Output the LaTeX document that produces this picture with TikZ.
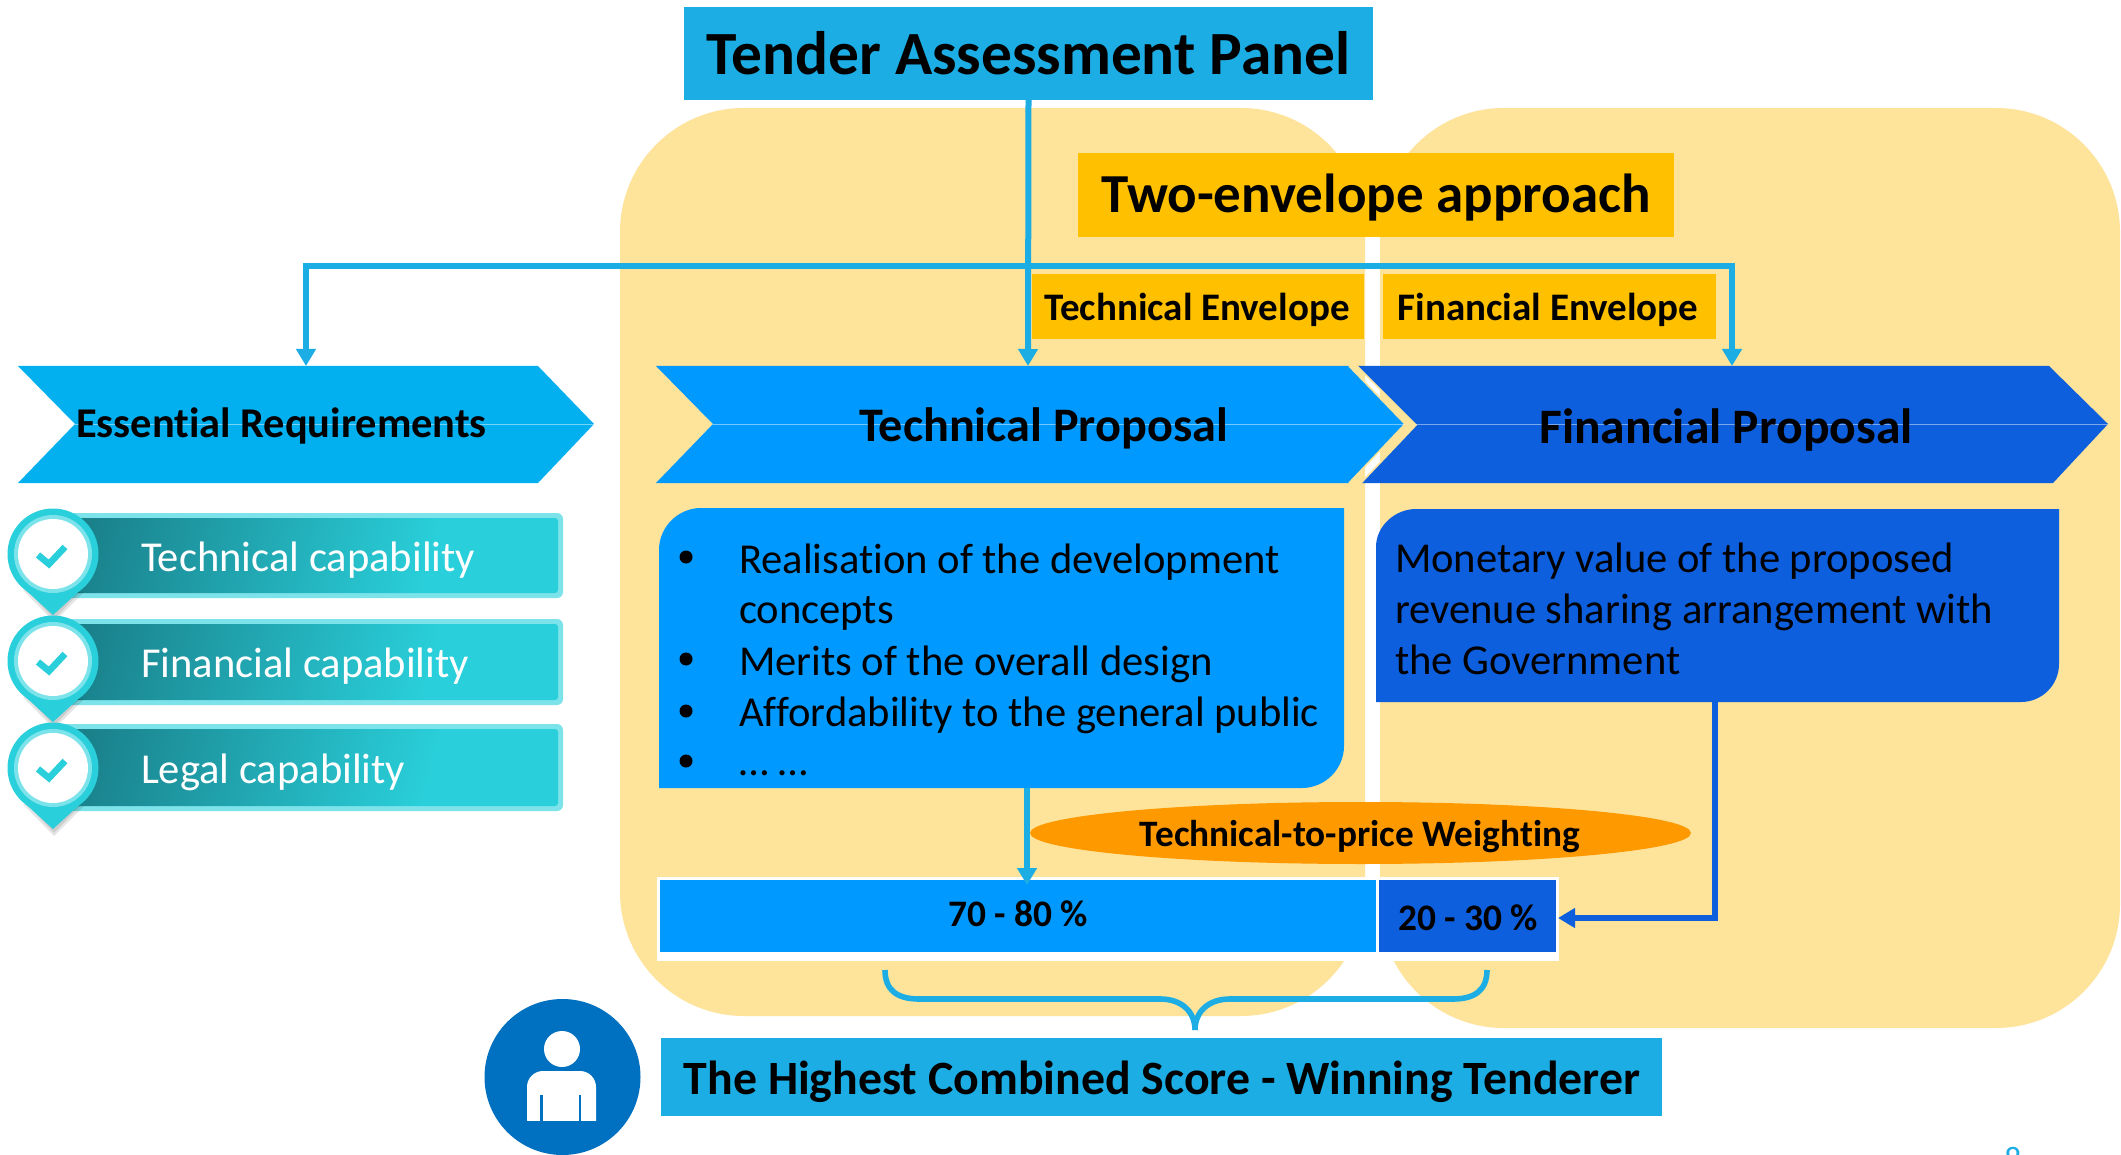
\documentclass[tikz,border=0pt]{standalone}
\usepackage{fontspec}
\setmainfont{Carlito}[Ligatures=NoCommon]
\usetikzlibrary{arrows.meta,shapes.geometric}
\definecolor{blobY}{HTML}{FEE39A}
\definecolor{goldB}{HTML}{FFC000}
\definecolor{skyB}{HTML}{1CADE4}
\definecolor{essB}{HTML}{02B0F0}
\definecolor{techB}{HTML}{0099FF}
\definecolor{finB}{HTML}{0E5FDE}
\definecolor{tealB}{HTML}{29CFDA}
\definecolor{tealD}{HTML}{187882}
\definecolor{tealL}{HTML}{7DE3EA}
\definecolor{orangeB}{HTML}{FF9900}
\definecolor{personB}{HTML}{0070C0}
\pgfdeclarehorizontalshading{tealbar}{100bp}{color(0bp)=(tealD); color(20bp)=(tealD); color(65bp)=(tealB); color(100bp)=(tealB)}
\tikzset{
 x=0.5pt,y=-0.5pt,
 flat/.style={inner sep=0,outer sep=0,text=black},
 conn/.style={line width=3pt,-{Triangle[length=8.5pt,width=9.5pt]}},
 skyconn/.style={conn,draw=skyB},
 finconn/.style={conn,draw=finB},
 centreline/.style={draw=white,opacity=.45,line width=.4pt},
 edgeline/.style={draw=blobY,line width=.8pt},
 headE/.style={flat,fill=goldB,minimum height=32.5pt,font=\fontsize{19.5}{24}\selectfont\bfseries},
 headD/.style={flat,font=\fontsize{18.7}{22}\selectfont\bfseries},
 bodytext/.style={flat,anchor=west,font=\fontsize{21.3}{25}\selectfont},
 captext/.style={flat,anchor=west,text=white,font=\fontsize{21.3}{25}\selectfont},
 bulletmark/.style={circle,fill=black,minimum size=6.5pt,inner sep=0},
}
\newcommand{\pinmark}[2]{%
 \fill[black,opacity=.10] (#1-30,#2+36) -- (#1+1,#2+68) -- (#1+31,#2+38) -- cycle;
 \fill[black,opacity=.10] (#1-26,#2+36) -- (#1+1,#2+65) -- (#1+27,#2+38) -- cycle;
 \fill[tealB] (#1-34,#2+30) -- (#1,#2+61) -- (#1+34,#2+30) -- cycle;
 \fill[tealB] (#1,#2) circle[radius=22.75pt];
 \fill[tealL] (#1,#2) circle[radius=19.5pt];
 \fill[white] (#1,#2) circle[radius=17.5pt];
 \draw[tealB,line width=3.3pt] (#1-15,#2+1) -- (#1-4,#2+10) -- (#1+12,#2-7);
}
\newcommand{\barbox}[2]{%
 \fill[tealL,rounded corners=3pt] (40,#1) rectangle (563,#2);
 \shade[rounded corners=1.5pt,shading=tealbar,shading angle=-15]
   (45,#1+5) rectangle (558,#2-5);
}
\begin{document}
\begin{tikzpicture}
\useasboundingbox (0,0) rectangle (2121,1155);
\fill[white] (0,0) rectangle (2121,1155);
% backgrounds
\fill[blobY,rounded corners=62pt] (620,108) rectangle (1365,1016);
\fill[blobY,rounded corners=62pt] (1380,108) rectangle (2120,1028);
% gold boxes
\node[flat,fill=goldB,minimum width=298pt,minimum height=42pt] (twoenv) at (1376,195) {};
\node[flat,font=\fontsize{27.5}{32}\selectfont\bfseries] (twoenvlabel) at (1376,198) {Two-envelope approach};
\node[headE,minimum width=166pt] (techenv) at (1198,306.5) {};
\node[flat,font=\fontsize{19.5}{24}\selectfont\bfseries] (techenvlabel) at (1197,310) {Technical Envelope};
\node[headE,minimum width=166.5pt] (finenv) at (1549.5,306.5) {};
\node[flat,font=\fontsize{19.5}{24}\selectfont\bfseries] (finenvlabel) at (1548,310) {Financial Envelope};
% chevrons
\fill[essB] (18,366) -- (538,366) -- (594,424) -- (538,483) -- (18,483) -- (75,424) -- cycle;
\draw[centreline] (75,424) -- (594,424);
\fill[techB] (656,366) -- (1349,366) -- (1405,424) -- (1349,483) -- (656,483) -- (713,424) -- cycle;
\draw[edgeline] (1349,366) -- (1405,424) -- (1349,483);
\draw[centreline] (713,424) -- (1405,424);
\fill[finB] (1357,366) -- (2049,366) -- (2108,424) -- (2053,483) -- (1361,483) -- (1416,425) -- cycle;
\draw[edgeline] (1357,366) -- (1416,425) -- (1361,483);
\draw[centreline] (1416,424) -- (2108,424);
\coordinate (essTop) at (306,366);
\coordinate (techTop) at (1028,366);
\coordinate (finTop) at (1732,366);
\node[flat,font=\fontsize{21.2}{26}\selectfont\bfseries] (esslabel) at (281.5,426) {Essential Requirements};
\node[flat,font=\fontsize{24.1}{28}\selectfont\bfseries] (techlabel) at (1043.5,428) {Technical Proposal};
\node[flat,font=\fontsize{24.8}{28}\selectfont\bfseries] (finlabel) at (1726,430) {Financial Proposal};
% panel
\node[flat,fill=skyB,minimum width=344.5pt,minimum height=46.5pt,font=\fontsize{30.7}{36}\selectfont\bfseries] (panel) at (1028.5,53.5) {Tender Assessment Panel};
% capability list
\barbox{513}{598}\barbox{619}{705}\barbox{724}{811}
\pinmark{53}{554}\pinmark{53}{661}\pinmark{53}{768}
\node[captext] (captech) at (141,560) {Technical capability};
\node[captext] (capfin) at (141,666) {Financial capability};
\node[captext] (capleg) at (141,772) {Legal capability};
% body boxes
\fill[techB] (701,508) -- (1344,508) -- (1344,746) .. controls (1344,769) and (1325,788) .. (1302,788) -- (659,788) -- (659,550) .. controls (659,527) and (678,508) .. (701,508) -- cycle;
\coordinate (techBodyBottom) at (1027,788);
\node[bodytext] (l1) at (739,562) {Realisation of the development};
\node[bodytext] (l2) at (739,613) {concepts};
\node[bodytext] (l3) at (739,664) {Merits of the overall design};
\node[bodytext] (l4) at (739,715) {Affordability to the general public};
\node[bodytext] (l5) at (739,773) {… …};
\node[bulletmark] (b1) at (686,557) {};
\node[bulletmark] (b3) at (686,659) {};
\node[bulletmark] (b4) at (686,711) {};
\node[bulletmark] (b5) at (686,761) {};
\fill[finB] (1416,509) -- (2059,509) -- (2059,664) .. controls (2059,685) and (2042,702) .. (2021,702) -- (1376,702) -- (1376,547) .. controls (1376,526) and (1395,509) .. (1416,509) -- cycle;
\coordinate (finBodyBottom) at (1715,702);
\node[bodytext] (f1) at (1395,561) {Monetary value of the proposed};
\node[bodytext] (f2) at (1395,612) {revenue sharing arrangement with};
\node[bodytext] (f3) at (1395,660) {the Government};
% score bar
\fill[white] (657,877) rectangle (1559,961);
\node[flat,fill=techB,minimum width=358pt,minimum height=36pt,anchor=north west] (bar1) at (660,880) {};
\node[flat,fill=finB,minimum width=88.5pt,minimum height=36pt,anchor=north west] (bar2) at (1379,880) {};
\node[headD] (pc1) at (1018,914) {70 - 80 \%};
\node[headD] (pc2) at (1468,918) {20 - 30 \%};
\coordinate (pc2Right) at (1558,918);
\coordinate (bar1Arrow) at (1027,885);
% ellipse
\node[flat,fill=orangeB,ellipse,minimum width=330.5pt,minimum height=31pt] (weight) at (1360.5,833) {};
\node[flat,font=\fontsize{18.65}{22}\selectfont\bfseries] (weightlabel) at (1360,837) {Technical-to-price Weighting};
% connectors
\coordinate (junc) at (1028,266);
\draw[skyconn] (junc) -| (essTop);
\draw[skyconn] (junc) -| (finTop);
\draw[skyconn] (panel.south) -- (techTop);
\draw[skyconn] (techBodyBottom) -- (bar1Arrow);
\draw[finconn] (finBodyBottom) |- (pc2Right);
% brace
\coordinate (bl) at (885,970);
\coordinate (br) at (1487,970);
\coordinate (bm) at (1195,1030);
\draw[skyB,line width=2.8pt] (bl) .. controls (885,990) and (897,999) .. (919,999) -- (1160,999) .. controls (1182,999) and (1195,1012) .. (bm);
\draw[skyB,line width=2.8pt] (br) .. controls (1487,990) and (1475,999) .. (1453,999) -- (1230,999) .. controls (1208,999) and (1195,1012) .. (bm);
% result
\node[flat,fill=skyB,minimum width=500.5pt,minimum height=39pt] (result) at (1161.5,1077) {};
\node[flat,font=\fontsize{23.9}{28}\selectfont\bfseries] (resultlabel) at (1162,1082) {The Highest Combined Score - Winning Tenderer};
\node[flat,circle,fill=personB,minimum size=78pt] (person) at (562.5,1077) {};
\fill[white] (562,1049) ellipse[x radius=9pt,y radius=9pt];
\fill[white,rounded corners=8pt] (527,1125) -- (527,1071) -- (596,1071) -- (596,1125);
\fill[personB] (540,1095) rectangle ++(2.5,30);
\fill[personB] (581,1095) rectangle ++(-2.5,30);
\fill[personB] (520,1121) rectangle (605,1130);
% page number
\node[flat,text=skyB,font=\fontsize{17}{20}\selectfont] (pageno) at (2013,1159) {8};
\end{tikzpicture}
\end{document}
